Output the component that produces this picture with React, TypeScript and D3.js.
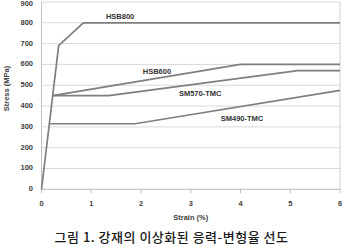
import React from "react";
import * as d3 from "d3";

const strainTicks = [0, 1, 2, 3, 4, 5, 6];
const stressTicks = [0, 100, 200, 300, 400, 500, 600, 700, 800, 900];

const seriesNames = ["HSB800", "HSB600", "SM570-TMC", "SM490-TMC"];
const hsb800Strain = [0, 0.345, 0.84, 6];
const hsb800Stress = [0, 690, 800, 800];
const hsb600Strain = [0.225, 4, 6];
const hsb600Stress = [450, 600, 600];
const sm570Strain = [0.225, 1.35, 5.15, 6];
const sm570Stress = [450, 450, 570, 570];
const sm490Strain = [0.1575, 1.88, 6];
const sm490Stress = [315, 315, 475];

const labelStrain = [1.58, 2.32, 3.19, 4.03];
const labelStress = [829, 565, 459, 336];

const xTitle = "Strain (%)";
const yTitle = "Stress (MPa)";
const caption = "그림 1. 강재의 이상화된 응력-변형율 선도";

const W = 345;
const H = 252;

export default function App() {
  const x = d3.scaleLinear().domain([0, 6]).range([41.5, 340]);
  const y = d3.scaleLinear().domain([0, 900]).range([189.3, 2]);
  const line = d3
    .line<[number, number]>()
    .x((d) => x(d[0]))
    .y((d) => y(d[1]));
  const series = [
    d3.zip(hsb800Strain, hsb800Stress) as [number, number][],
    d3.zip(hsb600Strain, hsb600Stress) as [number, number][],
    d3.zip(sm570Strain, sm570Stress) as [number, number][],
    d3.zip(sm490Strain, sm490Stress) as [number, number][],
  ];
  const lblFont = "'Liberation Sans', Arial, sans-serif";
  const [x0, x1] = x.range();
  const [y0, y1] = y.range();
  return (
    <svg
      width={W}
      height={H}
      style={{ position: "absolute", left: 0, top: 0, background: "#fff" }}
    >
      {stressTicks.map((t) => (
        <line key={"g" + t} x1={x0} x2={x1} y1={y(t)} y2={y(t)} stroke="#d9d9d9" strokeWidth={1} />
      ))}
      <line x1={x1} x2={x1} y1={y1} y2={y0} stroke="#d0d0d0" strokeWidth={1} />
      <line x1={x0} x2={x0} y1={y1} y2={y0} stroke="#c0c0c0" strokeWidth={1} />
      <line x1={x0} x2={x1} y1={y0} y2={y0} stroke="#c0c0c0" strokeWidth={1} />
      {strainTicks.map((t) => (
        <line key={"t" + t} x1={x(t)} x2={x(t)} y1={y0} y2={y0 + 4} stroke="#c0c0c0" strokeWidth={1} />
      ))}
      {series.map((s, i) => (
        <path key={seriesNames[i]} d={line(s) || ""} fill="none" stroke="#7f7f7f" strokeWidth={1.7} />
      ))}
      {stressTicks.map((t) => (
        <text
          key={"yl" + t}
          x={33}
          y={Math.max(y(t), 4)}
          textAnchor="end"
          dominantBaseline="middle"
          fontFamily={lblFont}
          fontWeight="bold"
          fontSize={7.5}
          fill="#404040"
        >
          {t}
        </text>
      ))}
      {strainTicks.map((t) => (
        <text
          key={"xl" + t}
          x={x(t)}
          y={204.5}
          textAnchor="middle"
          dominantBaseline="middle"
          fontFamily={lblFont}
          fontWeight="bold"
          fontSize={7.5}
          fill="#404040"
        >
          {t}
        </text>
      ))}
      <text
        x={(x0 + x1) / 2}
        y={218}
        textAnchor="middle"
        dominantBaseline="middle"
        fontFamily={lblFont}
        fontWeight="bold"
        fontSize={7.5}
        fill="#404040"
      >
        {xTitle}
      </text>
      <text
        transform={`translate(7,${88.5}) rotate(-90)`}
        textAnchor="middle"
        dominantBaseline="middle"
        fontFamily={lblFont}
        fontWeight="bold"
        fontSize={7.5}
        fill="#404040"
      >
        {yTitle}
      </text>
      {seriesNames.map((n, i) => (
        <text
          key={"sl" + n}
          x={x(labelStrain[i])}
          y={y(labelStress[i])}
          textAnchor="middle"
          dominantBaseline="middle"
          fontFamily={lblFont}
          fontWeight="bold"
          fontSize={7.5}
          fill="#333"
        >
          {n}
        </text>
      ))}
      <text
        x={171.5}
        y={238}
        textAnchor="middle"
        dominantBaseline="middle"
        fontFamily="'Noto Sans CJK KR', sans-serif"
        fontSize={13}
        fontWeight={500}
        letterSpacing={0.5}
        fill="#1a1a1a"
      >
        {caption}
      </text>
    </svg>
  );
}
